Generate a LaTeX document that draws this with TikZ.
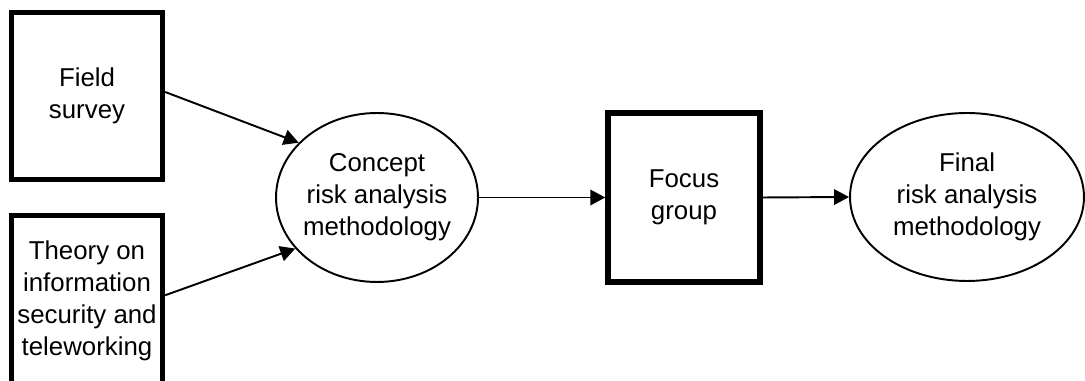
\documentclass[tikz,border=0pt]{standalone}
\usepackage{fontspec}
\setmainfont{Liberation Sans}
\usetikzlibrary{shapes.geometric, arrows.meta}
\tikzstyle{arrow} = [line width=1.1pt,-{Triangle[length=0.3cm,width=0.31cm]}]
\tikzstyle{source} = [draw, line width=3.1pt, minimum width=3.02cm, align=center, inner sep=0pt]
\tikzstyle{method} = [draw, ellipse, line width=1.1pt, align=center, inner sep=-5pt]

\begin{document}
\begin{tikzpicture}[x=0.02cm, y=0.02cm, font=\fontsize{14.7}{18.3}\selectfont]
		\useasboundingbox (0,0) rectangle (1085,381);
		\node [source, minimum height=3.35cm] (field) at (87,285) {Field\\survey};
		\node [source, minimum height=3.41cm] (theory) at (87,80.25) {Theory on\\information\\security and\\teleworking};
		\node [method, minimum width=4.04cm, minimum height=3.38cm] (concept) at (377,183.5) {Concept\\risk analysis\\methodology};
		\node [source, minimum width=3.04cm, minimum height=3.38cm] (focus) at (684,183.5) {Focus\\group};
		\node [method, minimum width=4.68cm, minimum height=3.36cm] (final) at (967,184) {Final\\risk analysis\\methodology};
		\draw [arrow] ([yshift=0.08cm]field.east) -- (concept.145);
		\draw [arrow] ([yshift=0.11cm]theory.east) -- (concept.212);
		\draw [arrow] (concept.east) -- (focus.west);
		\draw [arrow] (focus.east) -- (final.west);
	\end{tikzpicture}
\end{document}
